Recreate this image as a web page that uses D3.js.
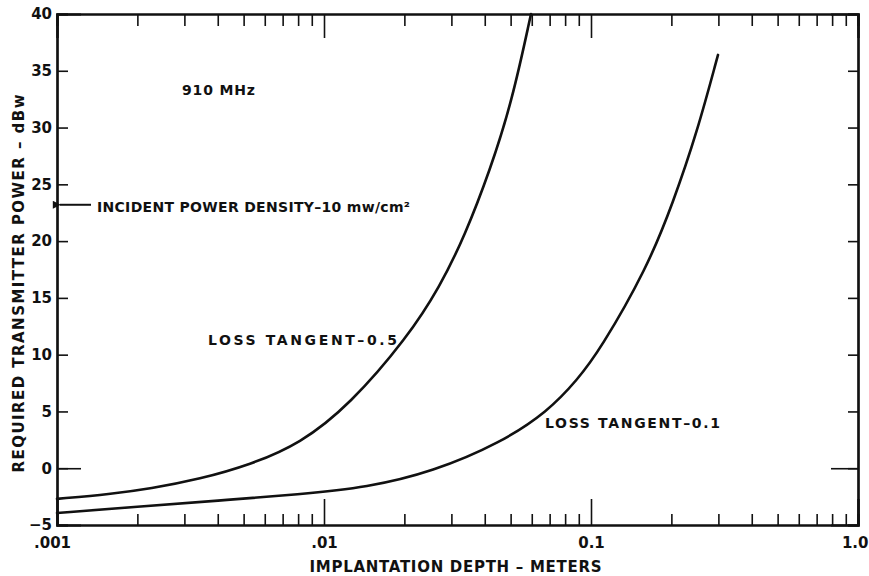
<!DOCTYPE html>
<html>
<head>
<meta charset="utf-8">
<script src="https://cdn.jsdelivr.net/npm/d3@7"></script>
<style>
  body { margin: 0; background: #fff; }
  text { font-family: "DejaVu Sans", sans-serif; font-weight: bold; fill: #111; }
  .axis path, .axis line { stroke: #111; }
  .curve { fill: none; stroke: #111; stroke-width: 2.6; stroke-linecap: round; }
</style>
</head>
<body>
<div id="chart"></div>
<script>

/* 910 MHz implant transmitter power vs depth */

// tick values and labels
var xMajor = [0.001, 0.01, 0.1, 1.0];
var xMajorLabels = [".001", ".01", "0.1", "1.0"];
var yTicks = [-5, 0, 5, 10, 15, 20, 25, 30, 35, 40];

// loss tangent 0.5 curve
var depthHigh = [0.001, 0.00159, 0.00223, 0.00343, 0.00528, 0.00813, 0.0125, 0.0205, 0.0272, 0.0337, 0.0418, 0.0506, 0.0596];
var powerHigh = [-2.7, -2.27, -1.8, -0.95, 0.3, 2.15, 5.6, 11.5, 16.0, 20.5, 26.2, 32.3, 40];

// loss tangent 0.1 curve
var depthLow = [0.001, 0.002, 0.004, 0.00813, 0.0145, 0.0256, 0.0456, 0.069, 0.089, 0.108, 0.162, 0.203, 0.249, 0.299];
var powerLow = [-3.94, -3.4, -2.85, -2.3, -1.7, -0.3, 2.2, 5.0, 7.8, 10.4, 17.6, 23.4, 29.5, 36.4];

// incident power density level (10 mw/cm2)
var incidentLevel = 23.2;

// set the dimensions and margins of the graph
var margin = {top: 14, right: 11, bottom: 51, left: 57},
    width = 869 - margin.left - margin.right,
    height = 576 - margin.top - margin.bottom;

// set the ranges
var x = d3.scaleLog().domain([0.001, 1]).range([0, width]);
var y = d3.scaleLinear().domain([-5, 40]).range([height, 0]);

// minor ticks 2..9 of each decade
var xMinor = x.ticks().filter(function(d) { return xMajor.indexOf(d) < 0; });

var svg = d3.select("#chart").append("svg")
    .attr("width", width + margin.left + margin.right)
    .attr("height", height + margin.top + margin.bottom)
  .append("g")
    .attr("transform", "translate(" + margin.left + "," + margin.top + ")");

// bottom axis with labels
var gx = svg.append("g")
    .attr("class", "axis")
    .attr("transform", "translate(0," + height + ")")
    .call(d3.axisBottom(x).tickValues(xMajor).tickSize(-26).tickPadding(12)
      .tickFormat(function(d, i) { return xMajorLabels[i]; }));
gx.selectAll("text").style("font-size", "15px");
gx.selectAll("text").filter(function(d) { return d === 0.001; }).attr("dx", -5);
gx.selectAll("text").filter(function(d) { return d === 1; })
    .attr("text-anchor", "end").attr("dx", 10);
svg.append("g")
    .attr("class", "axis")
    .attr("transform", "translate(0," + height + ")")
    .call(d3.axisBottom(x).tickValues(xMinor).tickSize(-11).tickFormat(""));

// top axis
svg.append("g")
    .attr("class", "axis")
    .call(d3.axisTop(x).tickValues(xMajor).tickSize(-24).tickFormat(""));
svg.append("g")
    .attr("class", "axis")
    .call(d3.axisTop(x).tickValues(xMinor).tickSize(-12).tickFormat(""));

// left axis
var gy = svg.append("g")
    .attr("class", "axis")
    .call(d3.axisLeft(y).tickValues(yTicks).tickSize(-11).tickPadding(5));
gy.selectAll("text").style("font-size", "15px");
svg.append("g")
    .attr("class", "axis")
    .call(d3.axisLeft(y).tickValues([0]).tickSize(-24).tickFormat(""));

// right axis
svg.append("g")
    .attr("class", "axis")
    .attr("transform", "translate(" + width + ",0)")
    .call(d3.axisRight(y).tickValues(yTicks).tickSize(-10).tickFormat(""));
svg.append("g")
    .attr("class", "axis")
    .attr("transform", "translate(" + width + ",0)")
    .call(d3.axisRight(y).tickValues([0]).tickSize(-27).tickFormat(""));

svg.selectAll(".axis path").attr("stroke-width", 2.2);
svg.selectAll(".axis line").attr("stroke-width", 1.6);

// define the line
var valueline = d3.line()
    .x(function(d) { return x(d.depth); })
    .y(function(d) { return y(d.power); })
    .curve(d3.curveBasis);

var highData = depthHigh.map(function(d, i) { return {depth: d, power: powerHigh[i]}; });
var lowData = depthLow.map(function(d, i) { return {depth: d, power: powerLow[i]}; });

svg.append("path").datum(highData).attr("class", "curve").attr("d", valueline);
svg.append("path").datum(lowData).attr("class", "curve").attr("d", valueline);

// arrow for incident power density
svg.append("defs").append("marker")
    .attr("id", "arrow")
    .attr("viewBox", "0 0 10 10")
    .attr("refX", 1).attr("refY", 5)
    .attr("markerWidth", 11).attr("markerHeight", 8)
    .attr("markerUnits", "userSpaceOnUse")
    .attr("orient", "auto")
  .append("path")
    .attr("d", "M10,0 L0,5 L10,10 Z")
    .attr("fill", "#111");

svg.append("line")
    .attr("x1", 34).attr("x2", 3)
    .attr("y1", y(incidentLevel)).attr("y2", y(incidentLevel))
    .attr("stroke", "#111").attr("stroke-width", 2)
    .attr("marker-end", "url(#arrow)");

// annotations
function label(txt, px, py, len, size) {
  return svg.append("text")
      .attr("x", px).attr("y", py)
      .attr("textLength", len).attr("lengthAdjust", "spacing")
      .style("font-size", size + "px")
      .text(txt);
}

label("910 MHz", 125, 81, 73, 14);
label("INCIDENT POWER DENSITY\u201310 mw/cm\u00b2", 40, 198, 313, 14);
label("LOSS TANGENT\u20130.5", 151, 331, 189, 14);
label("LOSS TANGENT\u20130.1", 488, 414, 175, 14);

// axis titles
svg.append("text")
    .attr("x", width / 2 - 2).attr("y", height + 47)
    .attr("text-anchor", "middle")
    .attr("textLength", 292).attr("lengthAdjust", "spacing")
    .style("font-size", "15px")
    .text("IMPLANTATION DEPTH \u2013 METERS");

svg.append("text")
    .attr("transform", "translate(-33," + (height / 2 + 14) + ") rotate(-90)")
    .attr("text-anchor", "middle")
    .attr("textLength", 378).attr("lengthAdjust", "spacing")
    .style("font-size", "15px")
    .text("REQUIRED TRANSMITTER POWER \u2013 dBw");

</script>
</body>
</html>
